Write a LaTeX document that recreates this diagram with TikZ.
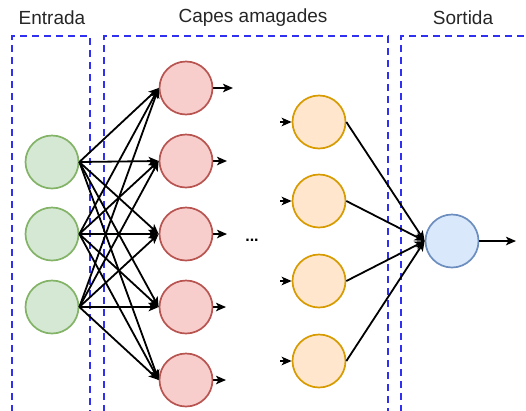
\documentclass[tikz,border=0pt]{standalone}
\usepackage{fontspec}
\setmainfont{Liberation Sans}
\usetikzlibrary{arrows.meta}
\definecolor{inFill}{HTML}{D5E8D4}
\definecolor{inLine}{HTML}{82B366}
\definecolor{hidFill}{HTML}{F8CECC}
\definecolor{hidLine}{HTML}{B85450}
\definecolor{hid2Fill}{HTML}{FFE6CC}
\definecolor{hid2Line}{HTML}{D79B00}
\definecolor{outFill}{HTML}{DAE8FC}
\definecolor{outLine}{HTML}{6C8EBF}
\definecolor{zoneLine}{HTML}{3030F0}
\begin{document}
\begin{tikzpicture}[x=1pt,y=-1pt,
  neuron/.style={circle,draw,line width=1.7pt,minimum size=53pt,inner sep=0pt},
  innode/.style={neuron,fill=inFill,draw=inLine},
  hidnode/.style={neuron,fill=hidFill,draw=hidLine},
  hid2node/.style={neuron,fill=hid2Fill,draw=hid2Line},
  outnode/.style={neuron,fill=outFill,draw=outLine},
  zone/.style={draw=zoneLine,line width=1.6pt,dash pattern=on 7pt off 5pt},
  link/.style={draw=black,line width=1.8pt,-{Stealth[length=10pt,width=8.5pt,inset=2.5pt]}},
  title/.style={font=\fontsize{19}{22}\selectfont,text=black!85}
]
\useasboundingbox (0,0) rectangle (526,410);

% layer zones
\draw[zone] (12,412) -- (12,36) -- (90,36) -- (90,412);
\draw[zone] (104,412) -- (104,36) -- (388,36) -- (388,412);
\draw[zone] (401,412) -- (401,36) -- (530,36);

% layer titles
\node[title] (tin) at (52,18) {Entrada};
\node[title] (thid) at (253,18) {Capes amagades};
\node[title] (tout) at (463,18) {Sortida};

% input layer
\foreach \i/\y in {1/162,2/234,3/307}
  \node[innode] (g\i) at (52,\y) {};

% first hidden layer
\foreach \i/\y in {1/88,2/161,3/234,4/307,5/380}
  \node[hidnode] (r\i) at (186,\y) {};

% last hidden layer
\foreach \i/\y in {1/122,2/201,3/281,4/361}
  \node[hid2node] (o\i) at (319,\y) {};

% output
\node[outnode] (b) at (452,241) {};

\node[font=\fontsize{16}{18}\selectfont\bfseries] (dots) at (252,240) {...};

% fully connected input -> first hidden
\foreach \i in {1,2,3}
  \foreach \j in {1,...,5}
    \draw[link] (g\i.east) -- (r\j.west);

% outputs of the first hidden layer
\foreach \j/\x/\y in {1/233/88,2/227/161,3/227/234,4/226/307,5/226/380} {
  \coordinate (re\j) at (\x,\y);
  \draw[link] (r\j.east) -- (re\j);
}

% inputs of the last hidden layer
\foreach \j/\y in {1/122,2/201,3/281,4/361} {
  \coordinate (os\j) at (280,\y);
  \draw[link] (os\j) -- (o\j.west);
}

% last hidden -> output
\foreach \j in {1,...,4}
  \draw[link] (o\j.east) -- (b.west);

\coordinate (bend) at (516,241);
\draw[link] (b.east) -- (bend);
\end{tikzpicture}
\end{document}
